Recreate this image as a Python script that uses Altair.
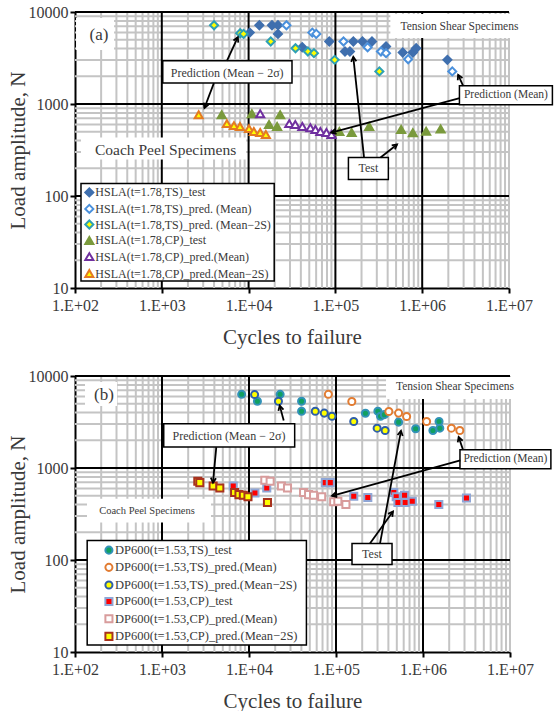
import math
import altair as alt
import pandas as pd

FONT = "Liberation Serif"
TXT = "#3a3a3a"

# ---------------- Panel (a): HSLA t=1.78 ----------------
a_names = [
    "HSLA(t=1.78,TS)_test",
    "HSLA(t=1.78,TS)_pred. (Mean)",
    "HSLA(t=1.78,TS)_pred. (Mean\u22122S)",
    "HSLA(t=1.78,CP)_test",
    "HSLA(t=1.78,CP)_pred.(Mean)",
    "HSLA(t=1.78,CP)_pred.(Mean\u22122S)",
]
a_ts_test_n = [10300, 13300, 18600, 21800, 21800, 41500, 85000, 129000, 147000, 161000, 205000, 264000, 383000, 597000, 780000, 852000, 1950000]
a_ts_test_p = [5970, 7180, 7180, 7180, 5780, 4140, 4780, 3720, 3720, 4780, 4780, 4780, 4220, 3630, 3630, 4040, 3020]
a_ts_mean_n = [27300, 54200, 60200, 124000, 235000, 335000, 383000, 689000, 2220000]
a_ts_mean_p = [7180, 5970, 5780, 4780, 4140, 3720, 3570, 3070, 2260]
a_ts_m2s_n = [4000, 8000, 8750, 18000, 34700, 48200, 56600, 98000, 321000]
a_ts_m2s_p = [7180, 5880, 5780, 4780, 4040, 3720, 3570, 3020, 2260]
a_cp_test_n = [4900, 10900, 17200, 21300, 23100, 111000, 154000, 245000, 572000, 780000, 1110000, 1630000]
a_cp_test_p = [766, 785, 597, 568, 766, 501, 489, 571, 527, 486, 506, 536]
a_cp_mean_n = [13600, 29400, 34500, 41600, 51500, 58800, 67100, 78800, 90200]
a_cp_mean_p = [785, 612, 597, 568, 553, 527, 501, 489, 465]
a_cp_m2s_n = [2660, 5620, 6780, 7950, 10100, 11500, 13600, 15800]
a_cp_m2s_p = [766, 612, 582, 568, 540, 501, 489, 465]

# ---------------- Panel (b): DP600 t=1.53 ----------------
b_names = [
    "DP600(t=1.53,TS)_test",
    "DP600(t=1.53,TS)_pred.(Mean)",
    "DP600(t=1.53,TS)_pred.(Mean\u22122S)",
    "DP600(t=1.53,CP)_test",
    "DP600(t=1.53,CP)_pred.(Mean)",
    "DP600(t=1.53,CP)_pred.(Mean\u22122S)",
]
b_ts_test_n = [8230, 12500, 22800, 40200, 40200, 218000, 303000, 325000, 360000, 524000, 823000, 1300000, 1530000, 1560000]
b_ts_test_p = [6320, 5320, 6320, 5320, 4140, 3940, 4140, 3650, 3800, 3150, 2670, 2560, 3200, 2710]
b_ts_mean_n = [81700, 152000, 405000, 524000, 648000, 1100000, 2120000, 2650000]
b_ts_mean_p = [6320, 5280, 4110, 3950, 3630, 3200, 2710, 2560]
b_ts_m2s_n = [11600, 21800, 57800, 73300, 89900, 160000, 297000, 367000]
b_ts_m2s_p = [6280, 5320, 4140, 3950, 3650, 3200, 2710, 2560]
b_cp_test_n = [6590, 11700, 16000, 75300, 86000, 160000, 232000, 462000, 492000, 515000, 614000, 625000, 753000, 1520000, 3160000]
b_cp_test_p = [638, 536, 607, 693, 693, 493, 477, 541, 486, 422, 506, 422, 436, 401, 473]
b_cp_mean_n = [15200, 17500, 23600, 27700, 42400, 48400, 55200, 68400, 94000, 105000, 130000]
b_cp_mean_p = [735, 717, 638, 607, 541, 514, 506, 486, 429, 436, 401]
b_cp_m2s_n = [2580, 2720, 3870, 4620, 6830, 7670, 8610, 9730, 16300]
b_cp_m2s_p = [717, 693, 638, 607, 541, 514, 506, 486, 422]

x_ticks = [1e2, 1e3, 1e4, 1e5, 1e6, 1e7]
y_ticks = [10, 100, 1000, 10000]

# annotations (log10 data units)
a_plain_boxes = [(2.012, 2.45, 3.588, 3.935), (5.633, 7.2, 3.718, 3.978), (2.069, 3.972, 2.397, 2.635)]
a_border_boxes = [(3.011, 4.5, 3.227, 3.469), (6.429, 7.5, 2.992, 3.198), (5.15, 5.61, 2.18, 2.418)]
a_texts = [("(a)", 2.277, 3.751, 17), ("Tension Shear Specimens", 6.429, 3.837, 11.5),
           ("Coach Peel Specimens", 3.044, 2.505, 15.5), ("Prediction (Mean \u2212 2\u03c3)", 3.753, 3.336, 12),
           ("Prediction (Mean)", 6.965, 3.095, 11.5), ("Test", 5.38, 2.299, 12)]
a_arrows = [(3.75, 3.469, 3.876, 3.726), (3.6, 3.227, 3.491, 2.957), (6.472, 3.198, 6.414, 3.317),
            (6.432, 3.065, 4.953, 2.689), (5.33, 2.418, 5.206, 3.512), (5.52, 2.418, 5.71, 2.56)]
a_leg_box = (2.069, 4.295, 1.075, 2.137)
a_leg_sym_lx, a_leg_txt_lx = 2.165, 2.234
a_leg_rows = [2.039, 1.86, 1.69, 1.517, 1.341, 1.157]

b_plain_boxes = [(2.115, 2.483, 3.675, 3.935), (5.575, 7.08, 3.751, 3.989), (2.138, 3.563, 2.407, 2.667)]
b_border_boxes = [(3.02, 4.525, 3.227, 3.48), (6.425, 7.47, 2.992, 3.198), (5.184, 5.644, 1.952, 2.18)]
b_texts = [("(b)", 2.333, 3.794, 17), ("Tension Shear Specimens", 6.368, 3.881, 11.5),
           ("Coach Peel Specimens", 2.828, 2.537, 10.5), ("Prediction (Mean \u2212 2\u03c3)", 3.77, 3.35, 12),
           ("Prediction (Mean)", 6.947, 3.101, 11.5), ("Test", 5.414, 2.066, 12)]
b_arrows = [(4.399, 3.516, 4.353, 3.678), (3.624, 3.227, 3.586, 2.841), (6.46, 3.198, 6.41, 3.336),
            (6.429, 3.082, 4.954, 2.697), (5.506, 2.18, 5.747, 3.404), (5.39, 2.18, 5.655, 2.527)]
b_leg_box = (2.14, 4.66, 1.075, 2.212)
b_leg_sym_lx, b_leg_txt_lx = 2.39, 2.46
b_leg_rows = [2.107, 1.92, 1.729, 1.549, 1.361, 1.17]

ARROW_PATH = "M-0.55,1L0,0L0.55,1"

XS = dict(type="log", domain=[100, 1e7], nice=False)
YS = dict(type="log", domain=[10, 10000], nice=False)

X_AXIS = alt.Axis(values=x_ticks, labelExpr="'1.E+0' + round(log(datum.value) / LN10)",
                  title="Cycles to failure", titlePadding=13, labelPadding=4, labelFlush=False)


def y_axis(tp):
    return alt.Axis(values=y_ticks, format="d", title="Load amplitude, N", titlePadding=tp,
                    labelPadding=2, labelFlush=False)


def panel(names, ns, ps, shapes, fills, strokes, sizes, plain, border, texts, arrows,
          leg_box, leg_sym_lx, leg_txt_lx, leg_rows, leg_fs, W, H, ytp):
    yax = y_axis(ytp)

    def X(f):
        return alt.X(f, scale=alt.Scale(**XS), axis=X_AXIS)

    def Y(f):
        return alt.Y(f, scale=alt.Scale(**YS), axis=yax)

    sym_enc = dict(
        shape=alt.Shape("series:N", scale=alt.Scale(domain=names, range=shapes), legend=None),
        fill=alt.Fill("series:N", scale=alt.Scale(domain=names, range=fills), legend=None),
        stroke=alt.Stroke("series:N", scale=alt.Scale(domain=names, range=strokes), legend=None),
        size=alt.Size("series:N", scale=alt.Scale(domain=names, range=sizes), legend=None),
    )

    rows = []
    for nm, xs_, ys_ in zip(names, ns, ps):
        for a, b in zip(xs_, ys_):
            rows.append({"series": nm, "n": a, "p": b})
    pts = pd.DataFrame(rows)

    minor_x = [m * 10 ** d for d in range(2, 7) for m in range(2, 10)] + [1e7]
    major_x = [1e3, 1e4, 1e5, 1e6]
    minor_y = [m * 10 ** d for d in range(1, 4) for m in range(2, 10)]
    major_y = [100, 1000, 10000]

    def vrules(vals, color):
        df = pd.DataFrame({"v": vals, "lo": [10] * len(vals), "hi": [10000] * len(vals)})
        return alt.Chart(df).mark_rule(color=color, strokeWidth=2).encode(
            x=X("v:Q"), y=Y("lo:Q"), y2="hi:Q")

    def hrules(vals, color):
        df = pd.DataFrame({"v": vals, "lo": [100] * len(vals), "hi": [1e7] * len(vals)})
        return alt.Chart(df).mark_rule(color=color, strokeWidth=2).encode(
            y=Y("v:Q"), x=X("lo:Q"), x2="hi:Q")

    def boxes(lst, stroke):
        df = pd.DataFrame([{"x0": 10 ** a, "x1": 10 ** b, "y0": 10 ** c, "y1": 10 ** d} for a, b, c, d in lst])
        kw = dict(fill="white")
        if stroke:
            kw.update(stroke="black", strokeWidth=1.5)
        return alt.Chart(df).mark_rect(**kw).encode(x=X("x0:Q"), x2="x1:Q", y=Y("y0:Q"), y2="y1:Q")

    points = alt.Chart(pts).mark_point(filled=True, strokeWidth=2, opacity=1).encode(
        x=X("n:Q"), y=Y("p:Q"), **sym_enc)

    # legend drawn from the series names
    ldf = pd.DataFrame({"series": names, "sx": [10 ** leg_sym_lx] * len(names),
                        "tx": [10 ** leg_txt_lx] * len(names), "ly": [10 ** v for v in leg_rows]})
    leg_syms = alt.Chart(ldf).mark_point(filled=True, strokeWidth=2, opacity=1).encode(
        x=X("sx:Q"), y=Y("ly:Q"), **sym_enc)
    leg_txt = alt.Chart(ldf).mark_text(font=FONT, fontSize=leg_fs, color=TXT, align="left",
                                       baseline="middle").encode(x=X("tx:Q"), y=Y("ly:Q"), text="series:N")

    arr_rows = []
    for x0, y0, x1, y1 in arrows:
        dx = (x1 - x0) / 5 * W
        dy = -(y1 - y0) / 3 * H
        ang = math.degrees(math.atan2(dx, -dy)) % 360
        arr_rows.append({"x0": 10 ** x0, "y0": 10 ** y0, "x1": 10 ** x1, "y1": 10 ** y1, "ang": ang})
    adf = pd.DataFrame(arr_rows)
    lines = alt.Chart(adf).mark_rule(color="black", strokeWidth=1.8).encode(
        x=X("x0:Q"), y=Y("y0:Q"), x2="x1:Q", y2="y1:Q")
    heads = alt.Chart(adf).mark_point(shape=ARROW_PATH, filled=False, color="black", strokeWidth=1.8,
                                      size=90, opacity=1).encode(
        x=X("x1:Q"), y=Y("y1:Q"), angle=alt.Angle("ang:Q", scale=None))

    text_layers = []
    for t, lx, ly, fs in texts:
        text_layers.append(alt.Chart(pd.DataFrame({"t": [t], "x": [10 ** lx], "y": [10 ** ly]})).mark_text(
            font=FONT, fontSize=fs, color=TXT, align="center", baseline="middle").encode(
            x=X("x:Q"), y=Y("y:Q"), text="t:N"))

    return alt.layer(
        vrules(minor_x, "#c4c4c4"), hrules(minor_y, "#c4c4c4"),
        vrules(major_x, "black"), hrules(major_y, "black"),
        boxes(plain, False), boxes(border + [leg_box], True),
        points, lines, heads, leg_syms, leg_txt, *text_layers,
    ).properties(width=W, height=H)


pa = panel(a_names,
           [a_ts_test_n, a_ts_mean_n, a_ts_m2s_n, a_cp_test_n, a_cp_mean_n, a_cp_m2s_n],
           [a_ts_test_p, a_ts_mean_p, a_ts_m2s_p, a_cp_test_p, a_cp_mean_p, a_cp_m2s_p],
           ["diamond"] * 3 + ["triangle-up"] * 3,
           ["#3f6fae", "white", "#ffff00", "#7a9a3c", "white", "#ffff00"],
           ["#3f6fae", "#4a90dc", "#2ea0b4", "#7a9a3c", "#7030a0", "#e47a22"],
           [65, 65, 65, 85, 85, 85],
           a_plain_boxes, a_border_boxes, a_texts, a_arrows,
           a_leg_box, a_leg_sym_lx, a_leg_txt_lx, a_leg_rows, 12, 434, 276, 0)

pb = panel(b_names,
           [b_ts_test_n, b_ts_mean_n, b_ts_m2s_n, b_cp_test_n, b_cp_mean_n, b_cp_m2s_n],
           [b_ts_test_p, b_ts_mean_p, b_ts_m2s_p, b_cp_test_p, b_cp_mean_p, b_cp_m2s_p],
           ["circle"] * 3 + ["square"] * 3,
           ["#10a060", "white", "#ffff00", "#ff0000", "white", "#ffff00"],
           ["#3292b8", "#e27c32", "#2f5fa8", "#8fa6d6", "#d89c9c", "#a8321e"],
           [50, 50, 50, 45, 50, 50],
           b_plain_boxes, b_border_boxes, b_texts, b_arrows,
           b_leg_box, b_leg_sym_lx, b_leg_txt_lx, b_leg_rows, 12.5, 435, 276, 0)

chart = alt.vconcat(pa, pb, spacing=21).resolve_scale(
    shape="independent", fill="independent", stroke="independent", size="independent"
).properties(
    padding={"top": 4, "left": 7, "right": 0, "bottom": 0}, background="white"
).configure_view(stroke=None).configure_axis(
    grid=False, domainColor="black", domainWidth=2, tickColor="black", tickWidth=2, tickSize=5,
    labelFont=FONT, labelFontSize=16, labelColor=TXT, titleFont=FONT, titleFontSize=21,
    titleFontWeight="normal", titleColor=TXT
)

chart.save("out.html", embed_options={"renderer": "svg", "actions": False})
